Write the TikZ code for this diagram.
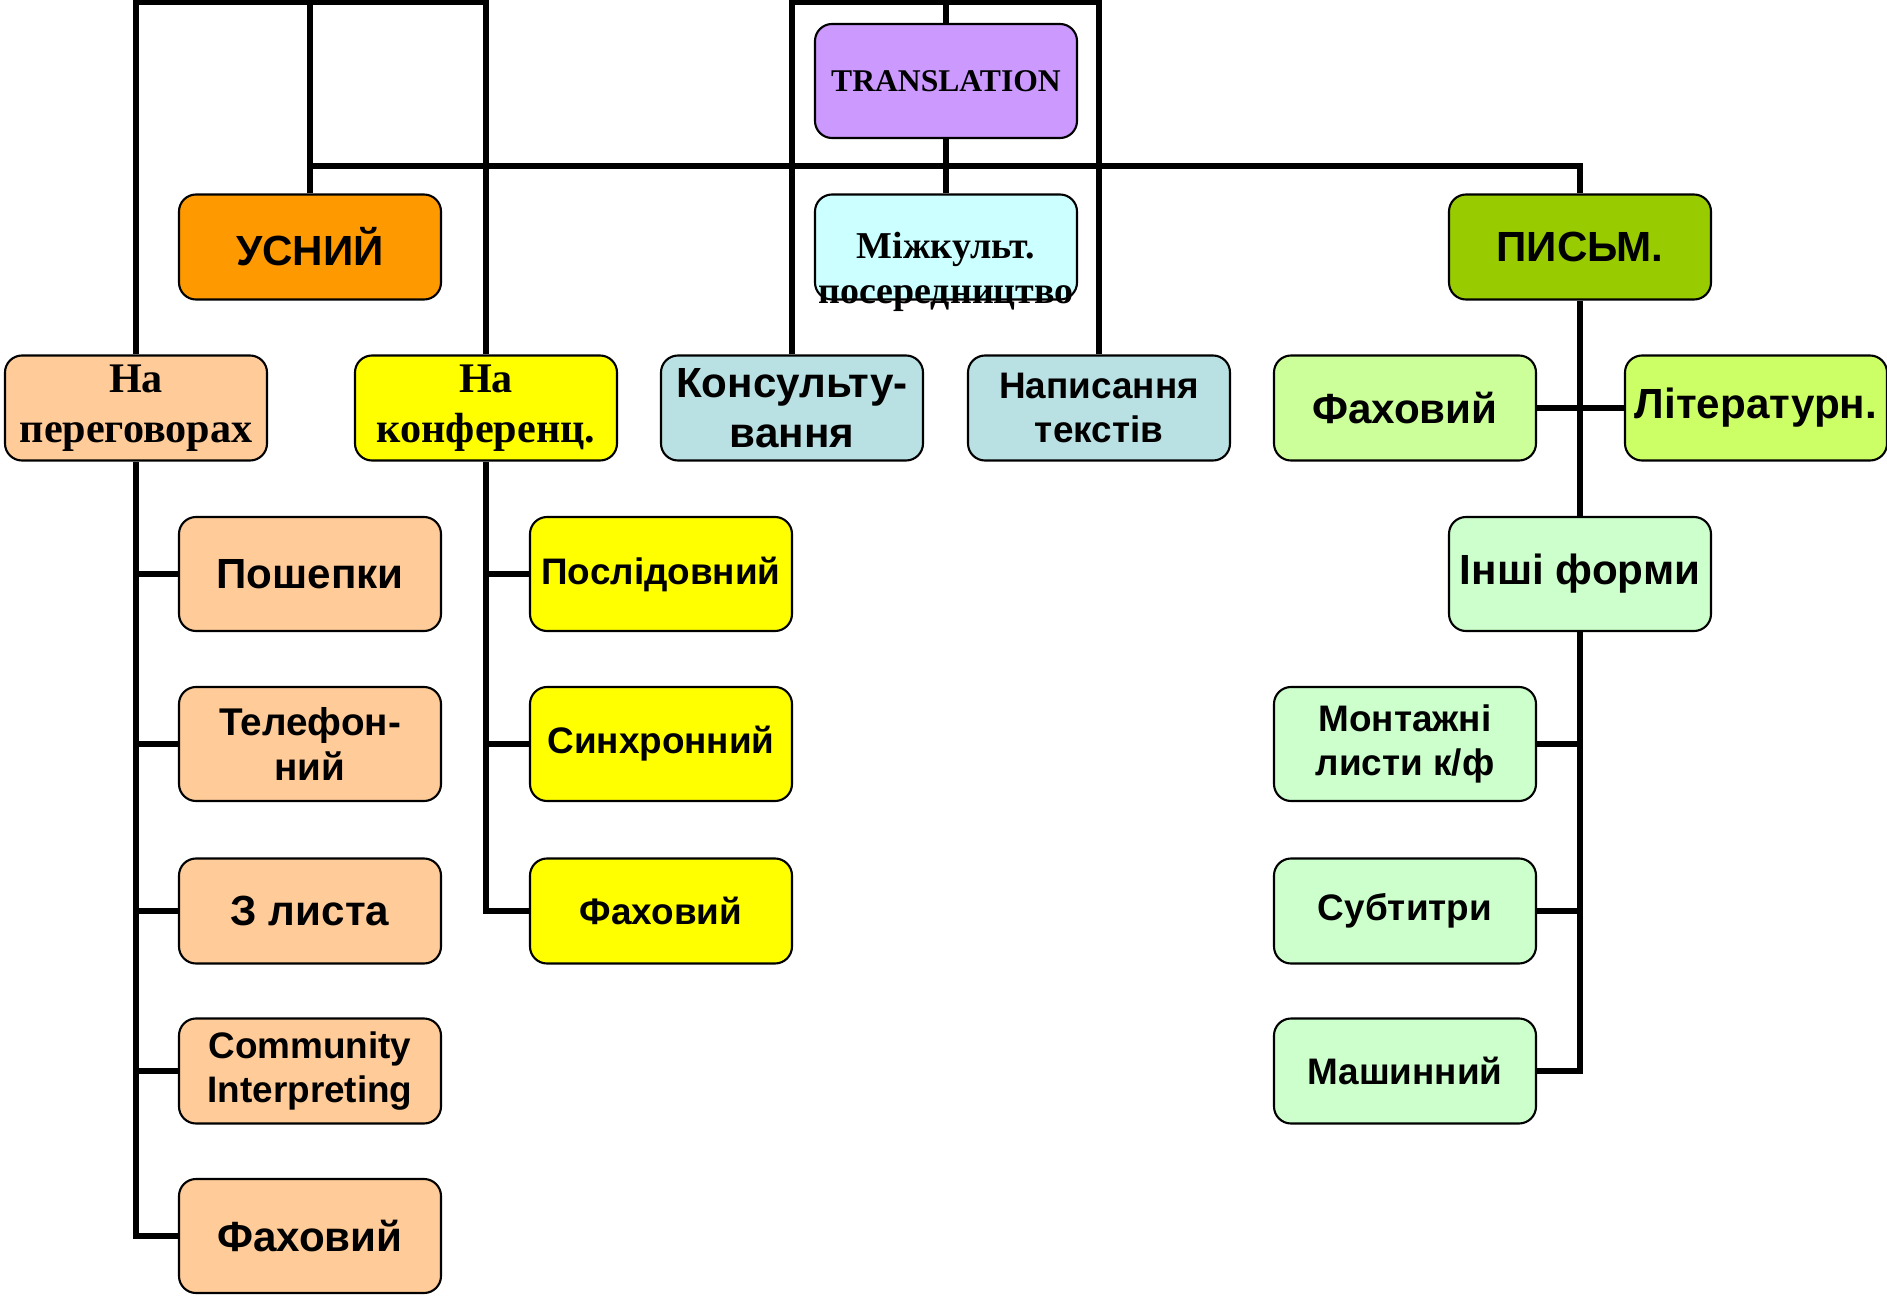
\documentclass[tikz,border=0pt]{standalone}
\usepackage{fontspec}
\setmainfont{Liberation Sans}
\newfontfamily\timesbf{Liberation Serif}
\definecolor{lilac}{HTML}{CC99FF}
\definecolor{usorange}{HTML}{FF9900}
\definecolor{palecyan}{HTML}{CCFFFF}
\definecolor{olivegreen}{HTML}{99CC00}
\definecolor{peach}{HTML}{FFCC99}
\definecolor{brightyellow}{HTML}{FFFF00}
\definecolor{greyblue}{HTML}{B9E0E3}
\definecolor{palelime}{HTML}{CCFF99}
\definecolor{lime}{HTML}{CCFF66}
\definecolor{mint}{HTML}{CCFFCC}

\begin{document}
\begin{tikzpicture}[
  box/.style={draw, line width=0.6pt, rounded corners=0.17cm, minimum width=2.62cm,
    minimum height=1.05cm, align=center, inner sep=1pt},
  tall/.style={minimum height=1.14cm},
  link/.style={line width=1.7pt},
  big/.style={font=\fontsize{12}{14.4}\selectfont\bfseries},
  mid/.style={font=\fontsize{11}{13}\selectfont\bfseries},
  small/.style={font=\fontsize{10.5}{12.4}\selectfont\bfseries},
  serif/.style={font=\fontsize{12}{14.3}\timesbf\bfseries}
]
\useasboundingbox (0,0) rectangle (18.87,-12.96);

% top level
\node[box, tall, fill=lilac, font=\fontsize{9}{11}\timesbf\bfseries] (tr) at (9.46,-0.81) {TRANSLATION};
\node[box, fill=usorange, big] (us) at (3.10,-2.47) {УСНИЙ};
\node[box, fill=palecyan] (mk) at (9.46,-2.47) {};
\node[font=\fontsize{10.8}{12.7}\timesbf\bfseries, align=center] (mktext) at (9.46,-2.72) {Міжкульт.\\посередництво};
\node[box, fill=olivegreen, big] (pm) at (15.80,-2.47) {ПИСЬМ.};

% second row
\node[box, fill=peach, serif] (np) at (1.36,-4.08) {На\\переговорах};
\node[box, fill=brightyellow, serif] (nk) at (4.86,-4.08) {На\\конференц.};
\node[box, fill=greyblue, font=\fontsize{12}{14.4}\selectfont\bfseries] (ks) at (7.92,-4.08) {Консульту-\\вання};
\node[box, fill=greyblue, small] (nt) at (10.99,-4.08) {Написання\\текстів};
\node[box, fill=palelime, big] (fg) at (14.05,-4.08) {Фаховий};
\node[box, fill=lime, big] (lt) at (17.56,-4.08) {Літературн.};

% oral branch
\node[box, tall, fill=peach, big] (psh) at (3.10,-5.74) {Пошепки};
\node[box, tall, fill=peach, mid] (tel) at (3.10,-7.44) {Телефон-\\ний};
\node[box, fill=peach, big] (zl) at (3.10,-9.11) {З листа};
\node[box, fill=peach, small] (com) at (3.10,-10.71) {Community\\Interpreting};
\node[box, tall, fill=peach, big] (fo) at (3.10,-12.36) {Фаховий};

% conference branch
\node[box, tall, fill=brightyellow, small] (pos) at (6.61,-5.74) {Послідовний};
\node[box, tall, fill=brightyellow, small] (sin) at (6.61,-7.44) {Синхронний};
\node[box, fill=brightyellow, small] (fy) at (6.61,-9.11) {Фаховий};

% written branch
\node[box, tall, fill=mint, big] (inf) at (15.80,-5.74) {Інші форми};
\node[box, tall, fill=mint, small] (mon) at (14.05,-7.44) {Монтажні\\листи к/ф};
\node[box, fill=mint, small] (sub) at (14.05,-9.11) {Субтитри};
\node[box, fill=mint, small] (mash) at (14.05,-10.71) {Машинний};

\coordinate (top) at (0,-0.02);
\coordinate (bus) at (0,-1.66);

% connectors
\draw[link] (tr.north) -- (tr.north |- top);
\draw[link] (tr.south) -- (mk.north);
\draw[link] (us.north) |- (pm.north |- bus) -- (pm.north);
\draw[link] (us.north) -- (us.north |- top);
\draw[link] (np.north) |- (nk.north |- top) -- (nk.north);
\draw[link] (ks.north) |- (nt.north |- top) -- (nt.north);

\draw[link] (np.south) |- (fo.west);
\foreach \n in {psh,tel,zl,com}
  \draw[link] (np.south |- \n.west) -- (\n.west);

\draw[link] (nk.south) |- (fy.west);
\foreach \n in {pos,sin}
  \draw[link] (nk.south |- \n.west) -- (\n.west);

\draw[link] (pm.south) -- (inf.north);
\draw[link] (fg.east) -- (lt.west);
\draw[link] (inf.south) |- (mash.east);
\foreach \n in {mon,sub}
  \draw[link] (inf.south |- \n.east) -- (\n.east);
\end{tikzpicture}
\end{document}
